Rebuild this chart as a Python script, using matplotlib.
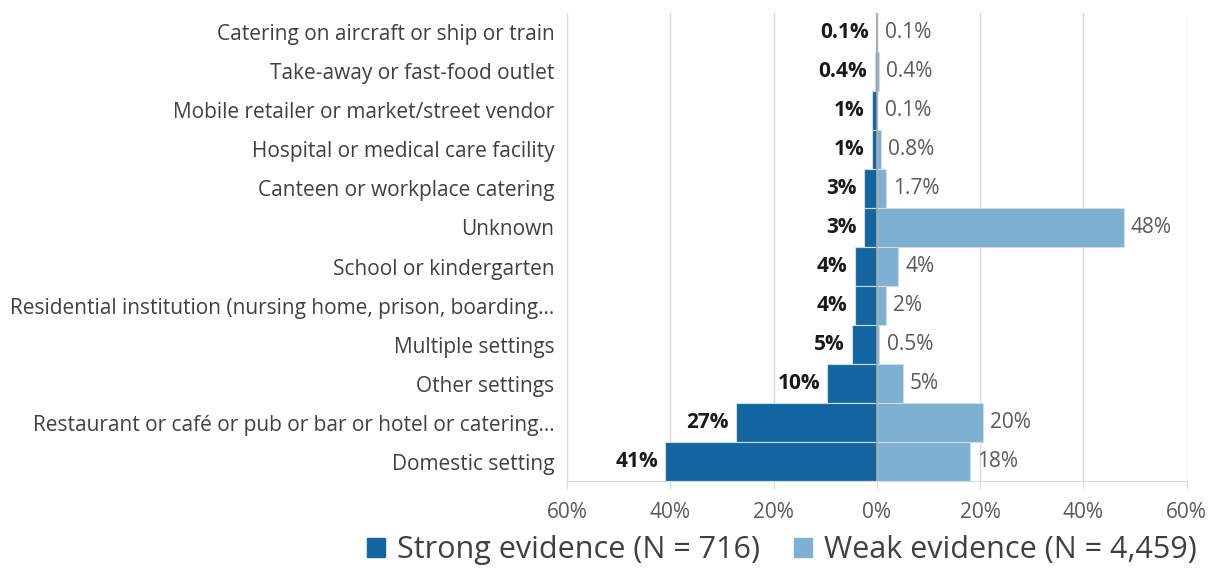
import numpy as np
import matplotlib
matplotlib.use("Agg")
import matplotlib.pyplot as plt
from matplotlib.patches import Patch

plt.rcParams['font.family'] = ['Open Sans', 'DejaVu Sans']

# data, top to bottom as in the chart
categories = [
    "Catering on aircraft or ship or train",
    "Take-away or fast-food outlet",
    "Mobile retailer or market/street vendor",
    "Hospital or medical care facility",
    "Canteen or workplace catering",
    "Unknown",
    "School or kindergarten",
    "Residential institution (nursing home, prison, boarding\u2026",
    "Multiple settings",
    "Other settings",
    "Restaurant or caf\u00e9 or pub or bar or hotel or catering\u2026",
    "Domestic setting",
]
strong = [0.1, 0.4, 1.0, 1.0, 2.5, 2.5, 4.3, 4.3, 4.8, 9.6, 27.2, 41.0]
weak = [0.1, 0.4, 0.1, 0.8, 1.7, 47.8, 4.2, 1.7, 0.5, 5.0, 20.5, 18.0]
strong_labels = ["0.1%", "0.4%", "1%", "1%", "3%", "3%", "4%", "4%", "5%", "10%", "27%", "41%"]
weak_labels = ["0.1%", "0.4%", "0.1%", "0.8%", "1.7%", "48%", "4%", "2%", "0.5%", "5%", "20%", "18%"]
xticks = [-60, -40, -20, 0, 20, 40, 60]

dark = "#13669f"
light = "#7eb0d1"

fig = plt.figure(figsize=(12.22, 5.86), dpi=100)
ax = fig.add_axes([0.464, 0.179, 0.507, 0.799])

y = np.arange(len(categories))[::-1]
ax.barh(y, -np.array(strong), height=1.0, color=dark, edgecolor="#d0dbe4", linewidth=0.8, zorder=2)
ax.barh(y, weak, height=1.0, color=light, edgecolor="#d0dbe4", linewidth=0.8, zorder=2)

for yi, s, w, sl, wl in zip(y, strong, weak, strong_labels, weak_labels):
    ax.text(-s - 1.4, yi, sl, ha="right", va="center", fontsize=15,
            fontweight="bold", color="#1a1a1a")
    ax.text(w + 1.4, yi, wl, ha="left", va="center", fontsize=15, color="#595959")

ax.axvline(0, color="#a6a6a6", linewidth=1.2, zorder=3)

ax.set_xlim(-60, 60)
ax.set_ylim(-0.5, len(categories) - 0.5)
ax.set_xticks(xticks)
ax.set_xticklabels([f"{abs(t)}%" for t in xticks], fontsize=15, color="#595959")
ax.set_yticks(y)
ax.set_yticklabels(categories, fontsize=15, color="#404040")
ax.tick_params(axis="y", length=0, pad=9)
ax.tick_params(axis="x", length=6, color="#d9d9d9", pad=9)
ax.grid(axis="x", color="#d9d9d9", linewidth=1, zorder=0)
for side in ["top", "right", "left"]:
    ax.spines[side].set_visible(False)
ax.spines["bottom"].set_color("#d9d9d9")

handles = [Patch(color=dark, label="Strong evidence (N = 716)"),
           Patch(color=light, label="Weak evidence (N = 4,459)")]
fig.legend(handles=handles, loc="center", bbox_to_anchor=(782 / 1222, 1 - 550 / 586),
           ncol=2, frameon=False, fontsize=22, handlelength=0.6, handleheight=0.6,
           handletextpad=0.4, columnspacing=1.1, labelcolor="#404040")

fig.savefig("out.png", dpi=100)
